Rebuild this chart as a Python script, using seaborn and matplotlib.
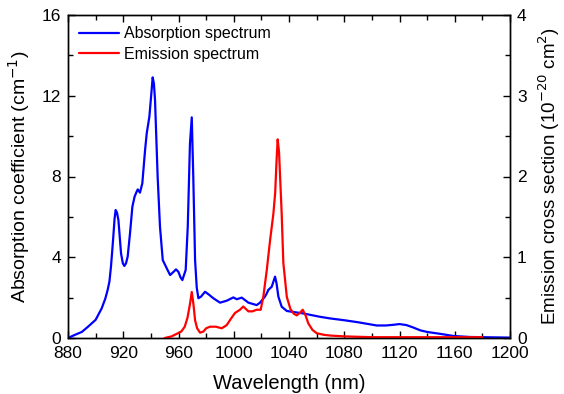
import numpy as np
import pandas as pd
import matplotlib
matplotlib.use("Agg")
import matplotlib.pyplot as plt
import seaborn as sns
from matplotlib.ticker import MultipleLocator

# Absorption spectrum (cm^-1)
abs_wl = [880, 884.8, 890, 894.5, 900, 904.4, 907, 908.7, 910, 911.1, 912, 912.8, 913.7, 914.5, 915.5,
          916.5, 918.4, 919.7, 920.8, 922, 923.2, 924.9, 926.6, 928.2, 929.7, 930.5, 932.1, 933.8, 935.8,
          937, 938.9, 940.2, 941.3, 942.2, 943, 944.9, 946.6, 948.6, 951.5, 953.9, 956, 958.2, 959.9,
          961.5, 962.8, 965.2, 966.7, 968.3, 969.6, 970.7, 972, 973.2, 974.4, 976.3, 979.2, 982, 985.2,
          990.1, 995, 999.7, 1002.2, 1005.8, 1010.6, 1016.6, 1019, 1022.6, 1023.9, 1025, 1027.5, 1029.9,
          1031, 1032.3, 1034.7, 1038.4, 1042, 1050, 1062.5, 1069.7, 1080, 1090, 1103.5, 1110, 1115, 1120,
          1125, 1130, 1135, 1140, 1150, 1159, 1171, 1180, 1190, 1200]
abs_val = [0.0, 0.15, 0.3, 0.56, 0.9, 1.47, 1.95, 2.38, 2.8, 3.53, 4.3, 5.02, 5.9, 6.34, 6.2,
           5.84, 4.19, 3.7, 3.57, 3.7, 4.03, 5.19, 6.5, 7.0, 7.25, 7.36, 7.2, 7.66, 9.31,
           10.14, 10.96, 12.0, 12.91, 12.6, 11.79, 7.99, 5.51, 3.86, 3.45, 3.12, 3.25, 3.4, 3.28,
           3.0, 2.87, 3.37, 5.51, 9.64, 10.93, 7.99, 3.86, 2.5, 1.97, 2.05, 2.29, 2.15, 1.97,
           1.75, 1.85, 2.01, 1.92, 2.0, 1.75, 1.63, 1.75, 2.05, 2.21, 2.38, 2.54, 3.04,
           2.7, 2.05, 1.55, 1.34, 1.3, 1.22, 1.05, 0.97, 0.88, 0.78, 0.62, 0.62, 0.65, 0.69,
           0.64, 0.52, 0.38, 0.3, 0.2, 0.1, 0.05, 0.04, 0.03, 0.02]

# Emission cross section (10^-20 cm^2)
em_wl = [950, 955, 959.7, 962, 964.5, 966.5, 968.3, 969.6, 970.8, 972, 973.5, 975.6, 978, 980, 982.8,
         987, 991.3, 994.9, 998, 1000.9, 1004.5, 1006.9, 1010.6, 1013.5, 1016.6, 1019.5, 1021.4, 1023.9,
         1026.3, 1028.7, 1030, 1031, 1031.8, 1032.8, 1034.7, 1035.9, 1038.4, 1041, 1043.5, 1045.6,
         1047.8, 1049.9, 1052, 1054, 1057, 1060, 1065, 1070, 1080, 1100, 1140, 1180]
em_val = [0.0, 0.02, 0.06, 0.08, 0.14, 0.25, 0.42, 0.57, 0.42, 0.22, 0.12, 0.066, 0.08, 0.12, 0.14,
          0.14, 0.12, 0.16, 0.24, 0.31, 0.35, 0.39, 0.33, 0.33, 0.35, 0.35, 0.51, 0.84,
          1.21, 1.54, 1.8, 2.2, 2.46, 2.3, 1.54, 0.93, 0.51, 0.36, 0.3, 0.28,
          0.31, 0.35, 0.28, 0.18, 0.1, 0.06, 0.04, 0.03, 0.02, 0.01, 0.01, 0.01]

abs_df = pd.DataFrame({"wl": abs_wl, "val": abs_val})
em_df = pd.DataFrame({"wl": em_wl, "val": em_val})

sns.set_style("ticks")
plt.rcParams['font.family'] = ['Liberation Sans', 'DejaVu Sans']
plt.rcParams['text.color'] = 'black'
plt.rcParams['axes.labelcolor'] = 'black'
plt.rcParams['xtick.color'] = 'black'
plt.rcParams['ytick.color'] = 'black'

fig = plt.figure(figsize=(5.64, 3.94), dpi=100)
ax = fig.add_axes([68/564, 1 - 338/394, (510-68)/564, (338-15)/394])
ax2 = ax.twinx()

sns.lineplot(data=abs_df, x="wl", y="val", ax=ax, color="#0000ff", lw=1.6, label="Absorption spectrum", legend=False)
sns.lineplot(data=em_df, x="wl", y="val", ax=ax2, color="#ff0000", lw=1.6, label="Emission spectrum", legend=False)

ax.set_xlim(880, 1200)
ax.set_ylim(0, 16)
ax2.set_ylim(0, 4)
ax.xaxis.set_major_locator(MultipleLocator(40))
ax.xaxis.set_minor_locator(MultipleLocator(20))
ax.yaxis.set_major_locator(MultipleLocator(4))
ax.yaxis.set_minor_locator(MultipleLocator(2))
ax2.yaxis.set_major_locator(MultipleLocator(1))
ax2.yaxis.set_minor_locator(MultipleLocator(0.5))

for a in (ax, ax2):
    for s in a.spines.values():
        s.set_visible(True)
        s.set_linewidth(1.0)
        s.set_color("black")
ax.tick_params(axis="x", which="both", direction="in", top=True, bottom=True, labelsize=12.5, pad=6,
               colors="black")
ax.tick_params(axis="x", which="major", length=5, width=1)
ax.tick_params(axis="x", which="minor", length=3.5, width=1)
ax.tick_params(axis="y", which="both", direction="in", left=True, right=False, labelsize=12.5, pad=5,
               colors="black")
ax.tick_params(axis="y", which="major", length=5, width=1)
ax.tick_params(axis="y", which="minor", length=3.5, width=1)
ax2.tick_params(axis="y", which="both", direction="in", right=True, labelsize=12.5, pad=5, colors="black")
ax2.tick_params(axis="y", which="major", length=5, width=1)
ax2.tick_params(axis="y", which="minor", length=3.5, width=1)

ax.set_xlabel("Wavelength (nm)", fontsize=14.5, labelpad=9, color="black")
ax.set_ylabel("Absorption coefficient (cm$^{-1}$)", fontsize=14, labelpad=7, color="black")
ax2.set_ylabel("Emission cross section (10$^{-20}$ cm$^{2}$)", fontsize=13.5, labelpad=7, color="black")

h1, l1 = ax.get_legend_handles_labels()
h2, l2 = ax2.get_legend_handles_labels()
leg = ax2.legend(h1 + h2, l1 + l2, loc="upper left", frameon=False, fontsize=11.5,
                 handlelength=2.5, handletextpad=0.3, borderaxespad=0.3, labelspacing=0.35)
for t in leg.get_texts():
    t.set_color("black")

fig.savefig("out.png", dpi=100)
